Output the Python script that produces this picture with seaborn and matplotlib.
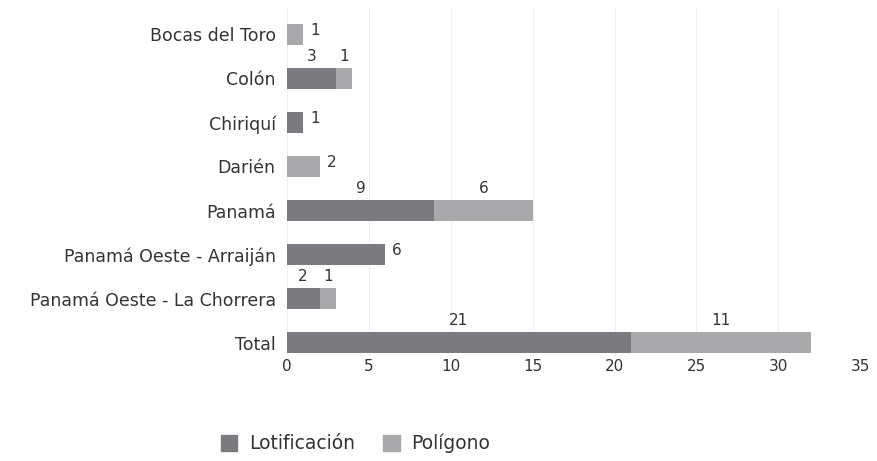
import matplotlib
matplotlib.use('Agg')
import matplotlib.pyplot as plt
import seaborn as sns
import pandas as pd
from matplotlib.patches import Patch

provincias = ['Bocas del Toro', 'Colón', 'Chiriquí', 'Darién', 'Panamá',
              'Panamá Oeste - Arraiján', 'Panamá Oeste - La Chorrera', 'Total']
lotificacion = [0, 3, 1, 0, 9, 6, 2, 21]
poligono = [1, 1, 0, 2, 6, 0, 1, 11]

color_lot = '#7b7b7f'
color_pol = '#a9a9ac'
color_txt = '#333333'

df = pd.DataFrame({'provincia': provincias, 'Lotificación': lotificacion, 'Polígono': poligono})
df['total'] = df['Lotificación'] + df['Polígono']

sns.set_theme(style='white')
plt.rcParams['font.family'] = ['DejaVu Sans']

fig = plt.figure(figsize=(8.77, 4.61), dpi=100)
ax = fig.add_axes([0.327, 0.228, 0.654, 0.755])

# barra total (gris claro) y encima la parte de lotificación
sns.barplot(data=df, y='provincia', x='total', color=color_pol, width=0.48, ax=ax,
            saturation=1, linewidth=0)
sns.barplot(data=df, y='provincia', x='Lotificación', color=color_lot, width=0.48, ax=ax,
            saturation=1, linewidth=0)

ax.set_xlim(0, 35)
ax.set_ylim(7.3, -0.6)
ax.set_xticks(range(0, 36, 5))
ax.xaxis.grid(True, color='#f0f0f0', linewidth=0.8)
ax.set_axisbelow(True)
sns.despine(ax=ax, left=True, bottom=True)
ax.set_xlabel('')
ax.set_ylabel('')
ax.tick_params(axis='x', labelsize=11, colors=color_txt, pad=2, length=0)
ax.tick_params(axis='y', labelsize=12.5, colors=color_txt, pad=8, length=0)

# etiquetas de valores
for i, (l, p) in enumerate(zip(lotificacion, poligono)):
    if l > 0 and p > 0:
        ax.annotate(str(l), (l / 2, i - 0.24), xytext=(0, 3), textcoords='offset points',
                    ha='center', va='bottom', fontsize=11, color=color_txt)
        ax.annotate(str(p), (l + p / 2, i - 0.24), xytext=(0, 3), textcoords='offset points',
                    ha='center', va='bottom', fontsize=11, color=color_txt)
    else:
        v = l + p
        ax.annotate(str(v), (v, i), xytext=(5, 3), textcoords='offset points',
                    ha='left', va='center', fontsize=11, color=color_txt)

handles = [Patch(color=color_lot, label='Lotificación'), Patch(color=color_pol, label='Polígono')]
fig.legend(handles=handles, loc='lower center', bbox_to_anchor=(0.405, -0.02), ncol=2,
           frameon=False, fontsize=13.5, handlelength=0.9, handleheight=0.9,
           columnspacing=1.5, handletextpad=0.6, labelcolor=color_txt)

fig.savefig('out.png', dpi=100)
